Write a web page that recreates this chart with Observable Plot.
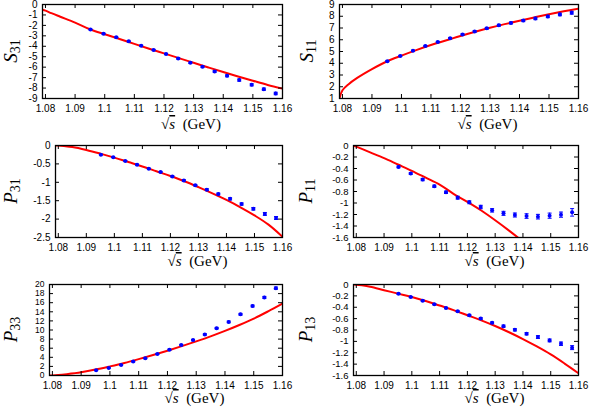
<!DOCTYPE html>
<html><head><meta charset="utf-8">
<script src="https://cdn.jsdelivr.net/npm/d3@7"></script>
<script src="https://cdn.jsdelivr.net/npm/@observablehq/plot@0.6"></script>
<style>
body{margin:0;background:#fff}
#chart{position:relative;width:590px;height:410px;background:#fff}
#chart svg{position:absolute;overflow:visible}
</style>
</head><body><div id="chart"></div>
<script>
// data points (sqrt(s) in GeV)
const xData = [1.0952, 1.0996, 1.1039, 1.1081, 1.1123, 1.1165, 1.1207, 1.1248, 1.1289, 1.1330, 1.1371, 1.1413, 1.1454, 1.1496, 1.1537, 1.1577];
const s31Data = [-2.40, -2.79, -3.14, -3.53, -3.94, -4.36, -4.74, -5.16, -5.58, -5.96, -6.41, -6.83, -7.24, -7.69, -8.11, -8.52];
const s31Err  = [0.05, 0.05, 0.05, 0.05, 0.05, 0.06, 0.06, 0.07, 0.07, 0.08, 0.08, 0.09, 0.10, 0.10, 0.11, 0.12];
const s11Data = [4.17, 4.62, 5.07, 5.47, 5.81, 6.13, 6.45, 6.71, 6.97, 7.23, 7.43, 7.63, 7.81, 7.98, 8.15, 8.30];
const s11Err  = [0.05, 0.05, 0.05, 0.05, 0.05, 0.06, 0.06, 0.07, 0.07, 0.08, 0.08, 0.09, 0.10, 0.10, 0.11, 0.12];
const p31Data = [-0.25, -0.32, -0.42, -0.52, -0.63, -0.72, -0.84, -0.95, -1.08, -1.20, -1.32, -1.45, -1.59, -1.72, -1.86, -1.97];
const p31Err  = [0.01, 0.01, 0.01, 0.015, 0.015, 0.015, 0.02, 0.02, 0.02, 0.025, 0.025, 0.03, 0.03, 0.035, 0.04, 0.04];
const p11Data = [-0.372, -0.488, -0.593, -0.709, -0.814, -0.907, -0.988, -1.07, -1.128, -1.18, -1.209, -1.227, -1.238, -1.221, -1.203, -1.163];
const p11Err  = [0.015, 0.015, 0.02, 0.02, 0.02, 0.025, 0.025, 0.03, 0.03, 0.035, 0.035, 0.04, 0.04, 0.045, 0.045, 0.065];
const p33Data = [1.16, 1.67, 2.33, 3.05, 3.78, 4.73, 5.67, 6.69, 7.78, 9.02, 10.4, 11.78, 13.45, 15.27, 17.16, 19.2];
const p33Err  = [0.1, 0.1, 0.1, 0.1, 0.12, 0.12, 0.13, 0.14, 0.15, 0.16, 0.17, 0.18, 0.2, 0.2, 0.22, 0.25];
const p13Data = [-0.163, -0.221, -0.285, -0.349, -0.413, -0.471, -0.541, -0.599, -0.674, -0.733, -0.797, -0.866, -0.924, -0.983, -1.041, -1.11];
const p13Err  = [0.01, 0.01, 0.01, 0.01, 0.012, 0.012, 0.015, 0.015, 0.015, 0.02, 0.02, 0.02, 0.025, 0.025, 0.03, 0.035];

// theory curves (red), read at these energies
const thX = [1.079, 1.08, 1.082, 1.085, 1.09, 1.095, 1.10, 1.105, 1.11, 1.115, 1.12, 1.125, 1.13, 1.135, 1.14, 1.145, 1.15, 1.155, 1.16];
const s31Th = [-0.51, -0.59, -0.83, -1.17, -1.73, -2.37, -2.85, -3.30, -3.77, -4.23, -4.68, -5.13, -5.58, -6.03, -6.47, -6.89, -7.30, -7.70, -8.05];
const s11Th = [1.0, 1.7, 2.2, 2.75, 3.5, 4.15, 4.65, 5.12, 5.55, 5.93, 6.32, 6.68, 7.02, 7.33, 7.62, 7.9, 8.17, 8.42, 8.65];
const p31Th = [0, -0.003, -0.015, -0.04, -0.12, -0.22, -0.33, -0.45, -0.57, -0.70, -0.83, -0.97, -1.13, -1.30, -1.48, -1.68, -1.90, -2.15, -2.48];
const p11Th = [0, -0.02, -0.06, -0.12, -0.22, -0.33, -0.44, -0.56, -0.68, -0.84, -0.98, -1.13, -1.30, -1.48, -1.67, null, null, null, null];
const p33Th = [0, 0.02, 0.1, 0.3, 0.72, 1.3, 2.0, 2.75, 3.6, 4.5, 5.45, 6.45, 7.5, 8.6, 9.8, 11.1, 12.5, 14.1, 15.8];
const p13Th = [0, -0.003, -0.015, -0.04, -0.10, -0.16, -0.22, -0.29, -0.37, -0.45, -0.54, -0.63, -0.73, -0.84, -0.96, -1.09, -1.23, -1.39, -1.56];

// tick labels
const xTicks = [1.08, 1.09, 1.1, 1.11, 1.12, 1.13, 1.14, 1.15, 1.16];
const xDomain = [1.079, 1.16];
const s31Ticks = [0, -1, -2, -3, -4, -5, -6, -7, -8, -9];
const s11Ticks = [1, 2, 3, 4, 5, 6, 7, 8, 9];
const p31Ticks = [0, -0.5, -1, -1.5, -2, -2.5];
const p11Ticks = [0, -0.2, -0.4, -0.6, -0.8, -1, -1.2, -1.4, -1.6];
const p33Ticks = [0, 2, 4, 6, 8, 10, 12, 14, 16, 18, 20];
const p13Ticks = [0, -0.2, -0.4, -0.6, -0.8, -1, -1.2, -1.4, -1.6];

const BLUE = "#0000ff", RED = "#ff0000";
const capSymbol = { draw(ctx, size) { const w = Math.sqrt(size / Math.PI); ctx.moveTo(-w, 0); ctx.lineTo(w, 0); } };

const panels = [
  {L:"S", sub:"31", data:s31Data, err:s31Err, th:s31Th, ticks:s31Ticks, left:0,   top:0,   h:136, ml:42, mr:13, mt:4,  mb:38, lx:17, xoff:29, fs:10},
  {L:"S", sub:"11", data:s11Data, err:s11Err, th:s11Th, ticks:s11Ticks, left:295, top:0,   h:136, ml:44, mr:12, mt:4,  mb:38, lx:18, xoff:29, fs:10},
  {L:"P", sub:"31", data:p31Data, err:p31Err, th:p31Th, ticks:p31Ticks, left:0,   top:136, h:137, ml:55, mr:13, mt:9,  mb:36, lx:17, xoff:29, fs:10},
  {L:"P", sub:"11", data:p11Data, err:p11Err, th:p11Th, ticks:p11Ticks, left:295, top:136, h:137, ml:58, mr:12, mt:9,  mb:36, lx:17, xoff:29, fs:9.5},
  {L:"P", sub:"33", data:p33Data, err:p33Err, th:p33Th, ticks:p33Ticks, left:0,   top:273, h:137, ml:49, mr:13, mt:11, mb:35, lx:17, xoff:29, fs:8.5},
  {L:"P", sub:"13", data:p13Data, err:p13Err, th:p13Th, ticks:p13Ticks, left:295, top:273, h:137, ml:58, mr:12, mt:11, mb:35, lx:17, xoff:29, fs:9.5}
];

const chart = document.getElementById("chart");
for (const p of panels) {
  const W = 295;
  const fw = W - p.ml - p.mr, fh = p.h - p.mt - p.mb;
  const pts = xData.map((x, i) => ({x, y: p.data[i], e: p.err[i]}));
  const th = thX.map((x, i) => ({x, y: p.th[i]}));
  const yDom = d3.extent(p.ticks);
  const svg = Plot.plot({
    width: W, height: p.h,
    marginLeft: p.ml, marginRight: p.mr, marginTop: p.mt, marginBottom: p.mb,
    x: {domain: xDomain},
    y: {domain: yDom},
    style: {fontFamily: "'Liberation Sans', Arial, sans-serif", fontSize: "10px", background: "transparent", color: "#000"},
    marks: [
      Plot.line(th, {x: "x", y: "y", stroke: RED, strokeWidth: 2, curve: "catmull-rom", clip: true}),
      Plot.ruleX(pts, {x: "x", y1: d => d.y - d.e, y2: d => d.y + d.e, stroke: BLUE, strokeWidth: 1}),
      Plot.dot(pts, {x: "x", y: d => d.y - d.e, symbol: capSymbol, r: 2, stroke: BLUE, strokeWidth: 1, fill: "none"}),
      Plot.dot(pts, {x: "x", y: d => d.y + d.e, symbol: capSymbol, r: 2, stroke: BLUE, strokeWidth: 1, fill: "none"}),
      Plot.dot(pts, {x: "x", y: "y", r: 2, fill: BLUE, stroke: "none"}),
      Plot.tickX(xTicks, {x: d => d, insetTop: fh - 4, stroke: "#000", strokeWidth: 1}),
      Plot.tickX(xTicks, {x: d => d, insetBottom: fh - 4, stroke: "#000", strokeWidth: 1}),
      Plot.tickY(p.ticks, {y: d => d, insetRight: fw - 4, stroke: "#000", strokeWidth: 1}),
      Plot.tickY(p.ticks, {y: d => d, insetLeft: fw - 4, stroke: "#000", strokeWidth: 1}),
      Plot.frame({stroke: "#000", strokeWidth: 1.3}),
      Plot.axisX(xTicks, {tickSize: 0, tickPadding: 6, tickFormat: d => String(d), label: null}),
      Plot.axisY(p.ticks, {tickSize: 0, tickPadding: 5, tickFormat: d => String(d), label: null, fontSize: p.fs})
    ]
  });
  svg.style.left = p.left + "px";
  svg.style.top = p.top + "px";
  const s = d3.select(svg);
  // y label
  const cy = p.mt + fh / 2;
  const yl = s.append("text")
    .attr("transform", `translate(${p.lx},${cy}) rotate(-90)`)
    .attr("text-anchor", "middle")
    .attr("font-family", "'Liberation Serif', 'Times New Roman', serif")
    .attr("fill", "#000");
  yl.append("tspan").attr("font-style", "italic").attr("font-size", 19).text(p.L);
  yl.append("tspan").attr("font-size", 14).attr("dy", 3).text(p.sub);
  // x label
  const xl = s.append("text")
    .attr("x", p.ml + fw / 2 + p.xoff)
    .attr("y", p.h - 7)
    .attr("text-anchor", "middle")
    .attr("font-family", "'Liberation Serif', 'Times New Roman', serif")
    .attr("font-size", 15)
    .attr("fill", "#000");
  xl.append("tspan").text("√");
  xl.append("tspan").attr("font-style", "italic").attr("text-decoration", "overline").text("s");
  xl.append("tspan").text("\u00a0\u00a0(GeV)");
  chart.appendChild(svg);
}
</script>
</body></html>
